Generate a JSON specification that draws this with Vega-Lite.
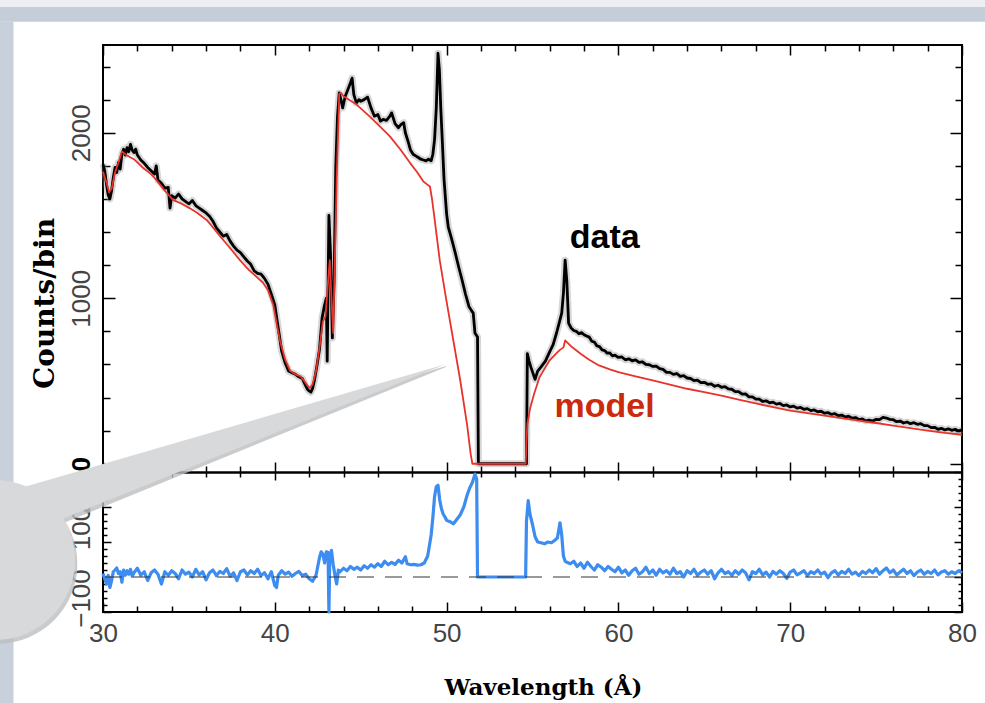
{
"$schema": "https://vega.github.io/schema/vega-lite/v6.json",
"width": 859,
"height": 567,
"autosize": {"type": "none"},
"padding": {"left": 103, "top": 45, "right": 23, "bottom": 91},
"background": "#ffffff",
"config": {
"view": {"stroke": "#000000", "strokeWidth": 2},
"axis": {"grid": false, "zindex": 0, "tickColor": "#000000", "tickWidth": 1.5, "domainColor": "#000000", "labelFont": "Liberation Sans", "labelFontSize": 26, "labelColor": "#444444", "titleFont": "DejaVu Serif", "titleColor": "#000000", "titleFontWeight": "bold", "labelFlush": false, "labelOverlap": false, "labelBound": false, "format": "d"}
},
"datasets": {
"spec": [
{"w":30.0,"c":1810},{"w":30.1,"c":1770},{"w":30.2,"c":1690},{"w":30.3,"c":1625},{"w":30.4,"c":1600},{"w":30.5,"c":1650},{"w":30.6,"c":1730},{"w":30.7,"c":1790},{"w":30.8,"c":1760},{"w":30.9,"c":1820},{"w":31.0,"c":1780},{"w":31.1,"c":1870},{"w":31.2,"c":1900},{"w":31.3,"c":1865},{"w":31.4,"c":1910},{"w":31.5,"c":1885},{"w":31.6,"c":1930},{"w":31.7,"c":1895},{"w":31.8,"c":1880},{"w":31.9,"c":1900},{"w":32.0,"c":1865},{"w":32.2,"c":1835},{"w":32.4,"c":1815},{"w":32.6,"c":1790},{"w":32.8,"c":1770},{"w":33.0,"c":1750},{"w":33.1,"c":1800},{"w":33.2,"c":1715},{"w":33.4,"c":1695},{"w":33.6,"c":1665},{"w":33.8,"c":1670},{"w":33.9,"c":1545},{"w":34.0,"c":1620},{"w":34.2,"c":1605},{"w":34.4,"c":1630},{"w":34.6,"c":1600},{"w":34.8,"c":1585},{"w":35.0,"c":1570},{"w":35.2,"c":1590},{"w":35.4,"c":1560},{"w":35.6,"c":1545},{"w":35.8,"c":1530},{"w":36.0,"c":1515},{"w":36.2,"c":1495},{"w":36.4,"c":1465},{"w":36.6,"c":1425},{"w":36.8,"c":1400},{"w":37.0,"c":1375},{"w":37.2,"c":1385},{"w":37.4,"c":1345},{"w":37.6,"c":1315},{"w":37.8,"c":1290},{"w":38.0,"c":1275},{"w":38.2,"c":1250},{"w":38.4,"c":1225},{"w":38.6,"c":1205},{"w":38.8,"c":1165},{"w":39.0,"c":1150},{"w":39.2,"c":1145},{"w":39.4,"c":1120},{"w":39.6,"c":1085},{"w":39.8,"c":1025},{"w":40.0,"c":960},{"w":40.2,"c":820},{"w":40.4,"c":680},{"w":40.6,"c":610},{"w":40.8,"c":560},{"w":41.0,"c":550},{"w":41.2,"c":540},{"w":41.4,"c":525},{"w":41.6,"c":515},{"w":41.8,"c":470},{"w":41.9,"c":450},{"w":42.0,"c":440},{"w":42.1,"c":432},{"w":42.2,"c":455},{"w":42.3,"c":500},{"w":42.45,"c":590},{"w":42.6,"c":690},{"w":42.75,"c":880},{"w":42.9,"c":960},{"w":43.0,"c":1000},{"w":43.05,"c":620},{"w":43.15,"c":1500},{"w":43.25,"c":1250},{"w":43.35,"c":760},{"w":43.45,"c":1100},{"w":43.55,"c":1800},{"w":43.65,"c":2100},{"w":43.75,"c":2240},{"w":43.85,"c":2200},{"w":43.95,"c":2150},{"w":44.1,"c":2220},{"w":44.25,"c":2260},{"w":44.4,"c":2300},{"w":44.5,"c":2330},{"w":44.6,"c":2230},{"w":44.75,"c":2180},{"w":44.9,"c":2200},{"w":45.0,"c":2190},{"w":45.2,"c":2200},{"w":45.4,"c":2215},{"w":45.6,"c":2150},{"w":45.8,"c":2100},{"w":46.0,"c":2110},{"w":46.15,"c":2070},{"w":46.3,"c":2080},{"w":46.5,"c":2075},{"w":46.7,"c":2100},{"w":46.8,"c":2120},{"w":47.0,"c":2055},{"w":47.2,"c":2030},{"w":47.35,"c":2050},{"w":47.5,"c":2060},{"w":47.6,"c":2000},{"w":47.75,"c":1950},{"w":47.9,"c":1895},{"w":48.05,"c":1870},{"w":48.2,"c":1860},{"w":48.35,"c":1850},{"w":48.5,"c":1840},{"w":48.65,"c":1835},{"w":48.8,"c":1830},{"w":48.95,"c":1840},{"w":49.1,"c":1830},{"w":49.2,"c":1870},{"w":49.3,"c":1960},{"w":49.4,"c":2150},{"w":49.5,"c":2480},{"w":49.58,"c":2380},{"w":49.66,"c":2150},{"w":49.75,"c":1950},{"w":49.85,"c":1720},{"w":50.0,"c":1510},{"w":50.1,"c":1430},{"w":50.3,"c":1355},{"w":50.5,"c":1275},{"w":50.7,"c":1190},{"w":50.9,"c":1110},{"w":51.1,"c":1025},{"w":51.3,"c":950},{"w":51.45,"c":925},{"w":51.55,"c":910},{"w":51.65,"c":790},{"w":51.8,"c":765},{"w":51.85,"c":0},{"w":54.65,"c":0},{"w":54.7,"c":665},{"w":54.8,"c":620},{"w":54.9,"c":585},{"w":55.05,"c":540},{"w":55.15,"c":510},{"w":55.3,"c":560},{"w":55.5,"c":585},{"w":55.75,"c":620},{"w":55.95,"c":665},{"w":56.2,"c":720},{"w":56.4,"c":790},{"w":56.55,"c":850},{"w":56.7,"c":910},{"w":56.8,"c":1030},{"w":56.9,"c":1230},{"w":57.0,"c":1100},{"w":57.1,"c":850},{"w":57.25,"c":820},{"w":57.4,"c":805},{"w":57.55,"c":800},{"w":57.7,"c":785},{"w":57.85,"c":792},{"w":58.0,"c":780},{"w":58.15,"c":772},{"w":58.3,"c":765},{"w":58.45,"c":740},{"w":58.6,"c":735},{"w":58.75,"c":712},{"w":58.9,"c":708},{"w":59.05,"c":688},{"w":59.2,"c":684},{"w":59.35,"c":668},{"w":59.5,"c":670},{"w":59.65,"c":652},{"w":59.8,"c":656},{"w":60.0,"c":642},{"w":60.2,"c":645},{"w":60.4,"c":628},{"w":60.6,"c":634},{"w":60.8,"c":622},{"w":61.0,"c":628},{"w":61.2,"c":612},{"w":61.4,"c":616},{"w":61.6,"c":600},{"w":61.8,"c":598},{"w":62.0,"c":588},{"w":62.2,"c":590},{"w":62.4,"c":574},{"w":62.6,"c":570},{"w":62.8,"c":552},{"w":63.0,"c":552},{"w":63.2,"c":540},{"w":63.4,"c":545},{"w":63.6,"c":528},{"w":63.8,"c":532},{"w":64.0,"c":518},{"w":64.2,"c":515},{"w":64.4,"c":502},{"w":64.6,"c":505},{"w":64.8,"c":490},{"w":65.0,"c":492},{"w":65.2,"c":480},{"w":65.4,"c":482},{"w":65.6,"c":468},{"w":65.8,"c":474},{"w":66.0,"c":462},{"w":66.2,"c":466},{"w":66.4,"c":452},{"w":66.6,"c":450},{"w":66.8,"c":436},{"w":67.0,"c":436},{"w":67.2,"c":420},{"w":67.4,"c":422},{"w":67.6,"c":404},{"w":67.8,"c":404},{"w":68.0,"c":390},{"w":68.2,"c":390},{"w":68.4,"c":376},{"w":68.6,"c":380},{"w":68.8,"c":368},{"w":69.0,"c":372},{"w":69.2,"c":360},{"w":69.4,"c":364},{"w":69.6,"c":351},{"w":69.8,"c":355},{"w":70.0,"c":343},{"w":70.2,"c":348},{"w":70.4,"c":336},{"w":70.6,"c":340},{"w":70.8,"c":329},{"w":71.0,"c":333},{"w":71.2,"c":321},{"w":71.4,"c":325},{"w":71.6,"c":314},{"w":71.8,"c":317},{"w":72.0,"c":305},{"w":72.2,"c":309},{"w":72.4,"c":298},{"w":72.6,"c":303},{"w":72.8,"c":290},{"w":73.0,"c":294},{"w":73.2,"c":282},{"w":73.4,"c":287},{"w":73.6,"c":275},{"w":73.8,"c":279},{"w":74.0,"c":267},{"w":74.2,"c":271},{"w":74.4,"c":259},{"w":74.6,"c":264},{"w":74.8,"c":258},{"w":75.0,"c":268},{"w":75.2,"c":266},{"w":75.4,"c":280},{"w":75.6,"c":276},{"w":75.8,"c":268},{"w":76.0,"c":266},{"w":76.2,"c":254},{"w":76.4,"c":258},{"w":76.6,"c":246},{"w":76.8,"c":252},{"w":77.0,"c":242},{"w":77.2,"c":248},{"w":77.4,"c":238},{"w":77.6,"c":242},{"w":77.8,"c":230},{"w":78.0,"c":230},{"w":78.2,"c":218},{"w":78.4,"c":220},{"w":78.6,"c":208},{"w":78.8,"c":214},{"w":79.0,"c":204},{"w":79.2,"c":211},{"w":79.4,"c":202},{"w":79.6,"c":208},{"w":79.8,"c":198},{"w":80.0,"c":204}
],
"model": [
{"w":30.0,"m":1764},{"w":30.2,"m":1700},{"w":30.35,"m":1640},{"w":30.5,"m":1660},{"w":30.7,"m":1760},{"w":30.9,"m":1820},{"w":31.1,"m":1887},{"w":31.4,"m":1862},{"w":31.8,"m":1840},{"w":32.3,"m":1790},{"w":32.8,"m":1750},{"w":33.1,"m":1715},{"w":33.6,"m":1650},{"w":34.07,"m":1594},{"w":34.5,"m":1575},{"w":35.06,"m":1543},{"w":35.5,"m":1515},{"w":36.03,"m":1473},{"w":36.5,"m":1415},{"w":37.0,"m":1352},{"w":37.5,"m":1290},{"w":37.97,"m":1230},{"w":38.5,"m":1170},{"w":38.94,"m":1129},{"w":39.3,"m":1095},{"w":39.6,"m":1050},{"w":39.91,"m":960},{"w":40.1,"m":850},{"w":40.3,"m":745},{"w":40.6,"m":630},{"w":40.9,"m":560},{"w":41.2,"m":540},{"w":41.5,"m":528},{"w":41.75,"m":495},{"w":41.95,"m":465},{"w":42.05,"m":458},{"w":42.2,"m":480},{"w":42.4,"m":560},{"w":42.6,"m":700},{"w":42.8,"m":860},{"w":42.95,"m":890},{"w":43.1,"m":1100},{"w":43.2,"m":1230},{"w":43.3,"m":1000},{"w":43.4,"m":790},{"w":43.5,"m":1250},{"w":43.6,"m":1715},{"w":43.75,"m":2235},{"w":43.85,"m":2240},{"w":44.0,"m":2220},{"w":44.76,"m":2170},{"w":45.5,"m":2100},{"w":46.1,"m":2040},{"w":46.7,"m":1978},{"w":47.3,"m":1900},{"w":47.87,"m":1818},{"w":48.3,"m":1760},{"w":48.65,"m":1705},{"w":48.9,"m":1685},{"w":49.03,"m":1675},{"w":49.15,"m":1600},{"w":49.3,"m":1480},{"w":49.6,"m":1230},{"w":50.0,"m":980},{"w":50.4,"m":740},{"w":50.8,"m":500},{"w":51.2,"m":230},{"w":51.4,"m":60},{"w":51.5,"m":0},{"w":54.6,"m":0},{"w":54.7,"m":240},{"w":54.85,"m":330},{"w":55.1,"m":424},{"w":55.4,"m":520},{"w":55.75,"m":582},{"w":56.0,"m":625},{"w":56.37,"m":665},{"w":56.6,"m":688},{"w":56.8,"m":703},{"w":56.9,"m":745},{"w":57.0,"m":735},{"w":57.3,"m":705},{"w":57.8,"m":665},{"w":58.3,"m":628},{"w":58.87,"m":594},{"w":59.5,"m":570},{"w":60.0,"m":553},{"w":61.0,"m":528},{"w":62.0,"m":503},{"w":63.0,"m":478},{"w":64.0,"m":453},{"w":65.0,"m":432},{"w":66.0,"m":412},{"w":67.0,"m":388},{"w":68.0,"m":364},{"w":69.0,"m":342},{"w":70.0,"m":321},{"w":71.0,"m":306},{"w":72.0,"m":291},{"w":73.0,"m":276},{"w":74.0,"m":261},{"w":75.0,"m":246},{"w":76.0,"m":230},{"w":77.0,"m":215},{"w":78.0,"m":200},{"w":79.0,"m":186},{"w":80.0,"m":175}
],
"resid": [
{"w":30.0,"r":10},{"w":30.1,"r":-5},{"w":30.2,"r":-20},{"w":30.3,"r":5},{"w":30.4,"r":-30},{"w":30.5,"r":-10},{"w":30.6,"r":15},{"w":30.7,"r":20},{"w":30.8,"r":26},{"w":30.9,"r":10},{"w":31.0,"r":15},{"w":31.1,"r":-15},{"w":31.2,"r":20},{"w":31.3,"r":5},{"w":31.4,"r":18},{"w":31.5,"r":8},{"w":31.6,"r":22},{"w":31.7,"r":2},{"w":31.8,"r":12},{"w":32.0,"r":25},{"w":32.2,"r":5},{"w":32.4,"r":15},{"w":32.6,"r":-10},{"w":32.8,"r":12},{"w":33.0,"r":20},{"w":33.2,"r":8},{"w":33.4,"r":-20},{"w":33.6,"r":15},{"w":33.8,"r":5},{"w":34.0,"r":18},{"w":34.2,"r":10},{"w":34.4,"r":-5},{"w":34.6,"r":20},{"w":34.8,"r":8},{"w":35.0,"r":14},{"w":35.2,"r":0},{"w":35.4,"r":22},{"w":35.6,"r":6},{"w":35.8,"r":15},{"w":36.0,"r":-8},{"w":36.2,"r":12},{"w":36.4,"r":20},{"w":36.6,"r":4},{"w":36.8,"r":16},{"w":37.0,"r":10},{"w":37.2,"r":24},{"w":37.4,"r":2},{"w":37.6,"r":12},{"w":37.8,"r":-10},{"w":38.0,"r":15},{"w":38.2,"r":20},{"w":38.4,"r":6},{"w":38.6,"r":18},{"w":38.8,"r":10},{"w":39.0,"r":22},{"w":39.2,"r":4},{"w":39.4,"r":12},{"w":39.6,"r":-5},{"w":39.8,"r":15},{"w":40.0,"r":-25},{"w":40.1,"r":-30},{"w":40.2,"r":5},{"w":40.4,"r":18},{"w":40.6,"r":8},{"w":40.8,"r":14},{"w":41.0,"r":2},{"w":41.2,"r":10},{"w":41.4,"r":16},{"w":41.6,"r":4},{"w":41.8,"r":8},{"w":42.0,"r":-5},{"w":42.2,"r":-12},{"w":42.4,"r":5},{"w":42.5,"r":30},{"w":42.6,"r":55},{"w":42.7,"r":72},{"w":42.8,"r":65},{"w":42.9,"r":40},{"w":43.0,"r":72},{"w":43.1,"r":70},{"w":43.15,"r":-100},{"w":43.2,"r":60},{"w":43.3,"r":76},{"w":43.4,"r":35},{"w":43.5,"r":5},{"w":43.6,"r":-20},{"w":43.7,"r":20},{"w":43.8,"r":15},{"w":44.0,"r":25},{"w":44.2,"r":18},{"w":44.4,"r":30},{"w":44.6,"r":22},{"w":44.8,"r":28},{"w":45.0,"r":20},{"w":45.2,"r":32},{"w":45.4,"r":25},{"w":45.6,"r":35},{"w":45.8,"r":28},{"w":46.0,"r":38},{"w":46.2,"r":30},{"w":46.4,"r":45},{"w":46.6,"r":35},{"w":46.8,"r":42},{"w":47.0,"r":36},{"w":47.2,"r":48},{"w":47.4,"r":40},{"w":47.6,"r":58},{"w":47.7,"r":38},{"w":47.9,"r":35},{"w":48.1,"r":36},{"w":48.3,"r":34},{"w":48.5,"r":35},{"w":48.7,"r":40},{"w":48.9,"r":60},{"w":49.0,"r":90},{"w":49.1,"r":120},{"w":49.2,"r":170},{"w":49.3,"r":230},{"w":49.4,"r":258},{"w":49.5,"r":262},{"w":49.6,"r":220},{"w":49.7,"r":195},{"w":49.8,"r":180},{"w":49.9,"r":172},{"w":50.0,"r":162},{"w":50.2,"r":158},{"w":50.4,"r":152},{"w":50.6,"r":165},{"w":50.8,"r":178},{"w":51.0,"r":200},{"w":51.2,"r":235},{"w":51.35,"r":255},{"w":51.5,"r":270},{"w":51.65,"r":294},{"w":51.75,"r":280},{"w":51.8,"r":0},{"w":54.6,"r":0},{"w":54.65,"r":160},{"w":54.75,"r":218},{"w":54.85,"r":180},{"w":55.0,"r":150},{"w":55.15,"r":115},{"w":55.3,"r":100},{"w":55.5,"r":98},{"w":55.7,"r":95},{"w":55.9,"r":100},{"w":56.1,"r":98},{"w":56.3,"r":105},{"w":56.45,"r":112},{"w":56.6,"r":155},{"w":56.7,"r":120},{"w":56.8,"r":60},{"w":56.9,"r":45},{"w":57.0,"r":42},{"w":57.2,"r":38},{"w":57.4,"r":45},{"w":57.6,"r":30},{"w":57.8,"r":40},{"w":58.0,"r":25},{"w":58.2,"r":42},{"w":58.4,"r":30},{"w":58.6,"r":20},{"w":58.8,"r":35},{"w":59.0,"r":28},{"w":59.2,"r":18},{"w":59.4,"r":30},{"w":59.6,"r":22},{"w":59.8,"r":15},{"w":60.0,"r":28},{"w":60.2,"r":12},{"w":60.4,"r":20},{"w":60.6,"r":5},{"w":60.8,"r":18},{"w":61.0,"r":25},{"w":61.2,"r":8},{"w":61.4,"r":15},{"w":61.6,"r":28},{"w":61.8,"r":10},{"w":62.0,"r":20},{"w":62.2,"r":5},{"w":62.4,"r":22},{"w":62.6,"r":12},{"w":62.8,"r":18},{"w":63.0,"r":8},{"w":63.2,"r":25},{"w":63.4,"r":10},{"w":63.6,"r":15},{"w":63.8,"r":0},{"w":64.0,"r":18},{"w":64.2,"r":10},{"w":64.4,"r":22},{"w":64.6,"r":5},{"w":64.8,"r":14},{"w":65.0,"r":20},{"w":65.2,"r":8},{"w":65.4,"r":18},{"w":65.6,"r":-5},{"w":65.8,"r":12},{"w":66.0,"r":22},{"w":66.2,"r":10},{"w":66.4,"r":15},{"w":66.6,"r":5},{"w":66.8,"r":18},{"w":67.0,"r":8},{"w":67.2,"r":20},{"w":67.4,"r":12},{"w":67.6,"r":-8},{"w":67.8,"r":15},{"w":68.0,"r":10},{"w":68.2,"r":22},{"w":68.4,"r":6},{"w":68.6,"r":14},{"w":68.8,"r":0},{"w":69.0,"r":16},{"w":69.2,"r":8},{"w":69.4,"r":18},{"w":69.6,"r":10},{"w":69.8,"r":-4},{"w":70.0,"r":14},{"w":70.2,"r":20},{"w":70.4,"r":6},{"w":70.6,"r":12},{"w":70.8,"r":18},{"w":71.0,"r":4},{"w":71.2,"r":15},{"w":71.4,"r":10},{"w":71.6,"r":20},{"w":71.8,"r":8},{"w":72.0,"r":14},{"w":72.2,"r":-2},{"w":72.4,"r":12},{"w":72.6,"r":18},{"w":72.8,"r":6},{"w":73.0,"r":16},{"w":73.2,"r":10},{"w":73.4,"r":22},{"w":73.6,"r":8},{"w":73.8,"r":14},{"w":74.0,"r":4},{"w":74.2,"r":16},{"w":74.4,"r":10},{"w":74.6,"r":20},{"w":74.8,"r":12},{"w":75.0,"r":24},{"w":75.2,"r":8},{"w":75.4,"r":18},{"w":75.6,"r":26},{"w":75.8,"r":12},{"w":76.0,"r":20},{"w":76.2,"r":6},{"w":76.4,"r":14},{"w":76.6,"r":22},{"w":76.8,"r":10},{"w":77.0,"r":18},{"w":77.2,"r":4},{"w":77.4,"r":14},{"w":77.6,"r":20},{"w":77.8,"r":8},{"w":78.0,"r":16},{"w":78.2,"r":10},{"w":78.4,"r":20},{"w":78.6,"r":6},{"w":78.8,"r":14},{"w":79.0,"r":18},{"w":79.2,"r":8},{"w":79.4,"r":15},{"w":79.6,"r":10},{"w":79.8,"r":18},{"w":80.0,"r":12}
],
"one": [{}],
"axisdummy": [{"w": 30, "v": 0}],
"callout": [{"w": 24.0, "t": -183, "b": -485.0}, {"w": 49.97, "t": 602.5, "b": 602.5}],
"calloutshadow": [{"w": 24.0, "t": -200, "b": -515.0}, {"w": 49.97, "t": 590, "b": 585}]
},
"resolve": {"scale": {"y": "independent"}, "axis": {"x": "independent", "y": "independent"}},
"layer": [
{"data": {"name": "one"}, "mark": {"type": "rect", "color": "#eceef1"},
 "encoding": {"x": {"datum": 23.5, "type": "quantitative", "scale": {"domain": [30, 80], "nice": false, "zero": false}, "axis": null}, "x2": {"datum": 82}, "y": {"datum": 2759.6, "type": "quantitative", "scale": {"domain": [-50, 2530], "range": [427, 0], "nice": false, "zero": false}, "axis": null}, "y2": {"datum": 2830}}},
{"data": {"name": "one"}, "mark": {"type": "rect", "color": "#c5cdd8"},
 "encoding": {"x": {"datum": 23.5, "type": "quantitative", "scale": {"domain": [30, 80], "nice": false, "zero": false}, "axis": null}, "x2": {"datum": 82}, "y": {"datum": 2670.8, "type": "quantitative", "scale": {"domain": [-50, 2530], "range": [427, 0], "nice": false, "zero": false}, "axis": null}, "y2": {"datum": 2759.6}}},
{"data": {"name": "one"}, "mark": {"type": "rect", "color": "#c7d0db"},
 "encoding": {"x": {"datum": 23.5, "type": "quantitative", "scale": {"domain": [30, 80], "nice": false, "zero": false}, "axis": null}, "x2": {"datum": 24.79}, "y": {"datum": -1500, "type": "quantitative", "scale": {"domain": [-50, 2530], "range": [427, 0], "nice": false, "zero": false}, "axis": null}, "y2": {"datum": 2671}}},
{"data": {"name": "spec"}, "mark": {"type": "line", "color": "#8a8a8a", "strokeWidth": 7, "opacity": 0.35, "strokeJoin": "round"},
 "encoding": {"x": {"field": "w", "type": "quantitative", "scale": {"domain": [30, 80], "nice": false, "zero": false}, "axis": null}, "y": {"field": "c", "type": "quantitative", "scale": {"domain": [-50, 2530], "range": [427, 0], "nice": false, "zero": false}, "axis": null}}},
{"data": {"name": "spec"}, "mark": {"type": "line", "color": "#000000", "strokeWidth": 2.8, "strokeJoin": "round"},
 "encoding": {"x": {"field": "w", "type": "quantitative", "scale": {"domain": [30, 80], "nice": false, "zero": false}, "axis": null}, "y": {"field": "c", "type": "quantitative", "scale": {"domain": [-50, 2530], "range": [427, 0], "nice": false, "zero": false}, "axis": null}}},
{"data": {"name": "model"}, "mark": {"type": "line", "color": "#e8332c", "strokeWidth": 1.8, "strokeJoin": "round"},
 "encoding": {"x": {"field": "w", "type": "quantitative", "scale": {"domain": [30, 80], "nice": false, "zero": false}, "axis": null}, "y": {"field": "m", "type": "quantitative", "scale": {"domain": [-50, 2530], "range": [427, 0], "nice": false, "zero": false}, "axis": null}}},
{"data": {"name": "one"}, "mark": {"type": "text", "font": "Liberation Sans", "fontWeight": "bold", "fontSize": 34, "align": "center", "baseline": "alphabetic", "color": "#000000"},
 "encoding": {"x": {"datum": 59.2, "type": "quantitative", "scale": {"domain": [30, 80], "nice": false, "zero": false}, "axis": null}, "y": {"datum": 1303, "type": "quantitative", "scale": {"domain": [-50, 2530], "range": [427, 0], "nice": false, "zero": false}, "axis": null}, "text": {"value": "data"}}},
{"data": {"name": "one"}, "mark": {"type": "text", "font": "Liberation Sans", "fontWeight": "bold", "fontSize": 34, "align": "center", "baseline": "alphabetic", "color": "#cc2a0c"},
 "encoding": {"x": {"datum": 59.2, "type": "quantitative", "scale": {"domain": [30, 80], "nice": false, "zero": false}, "axis": null}, "y": {"datum": 284, "type": "quantitative", "scale": {"domain": [-50, 2530], "range": [427, 0], "nice": false, "zero": false}, "axis": null}, "text": {"value": "model"}}},
{"data": {"name": "resid"}, "mark": {"type": "line", "color": "#3d8cf0", "strokeWidth": 3.2, "strokeJoin": "round"},
 "encoding": {"x": {"field": "w", "type": "quantitative", "scale": {"domain": [30, 80], "nice": false, "zero": false}, "axis": null}, "y": {"field": "r", "type": "quantitative", "scale": {"domain": [-100, 300], "range": [567, 427], "nice": false, "zero": false}, "axis": null}}},
{"data": {"name": "one"}, "mark": {"type": "rule", "color": "#333333", "opacity": 0.5, "strokeWidth": 2.2, "strokeDash": [17, 11]},
 "encoding": {"y": {"datum": 0, "type": "quantitative", "scale": {"domain": [-100, 300], "range": [567, 427], "nice": false, "zero": false}, "axis": null}}},
{"data": {"name": "axisdummy"}, "mark": {"type": "point", "opacity": 0},
 "encoding": {
  "x": {"field": "w", "type": "quantitative", "scale": {"domain": [30, 80], "nice": false, "zero": false}, "axis": {"orient": "bottom", "offset": -140, "values": [30, 40, 50, 60, 70, 80], "labels": false, "tickSize": -10, "domain": true, "domainWidth": 2.5, "title": null}},
  "y": {"field": "v", "type": "quantitative", "scale": {"domain": [-50, 2530], "range": [427, 0], "nice": false, "zero": false}, "axis": {"orient": "left", "values": [0, 1000, 2000], "tickSize": -12, "domain": false, "labelAngle": 270, "labelAlign": "center", "labelBaseline": "alphabetic", "labelPadding": 26, "labelColor": {"condition": {"test": "datum.value === 0", "value": "#000000"}, "value": "#444444"}, "labelFontWeight": {"condition": {"test": "datum.value === 0", "value": "bold"}, "value": "normal"}, "title": "Counts/bin", "titleAngle": 270, "titleAlign": "center", "titleBaseline": "alphabetic", "titleX": -50, "titleY": 258, "titleFontSize": 28}}}},
{"data": {"name": "axisdummy"}, "mark": {"type": "point", "opacity": 0},
 "encoding": {
  "x": {"field": "w", "type": "quantitative", "scale": {"domain": [30, 80], "nice": false, "zero": false}, "axis": {"orient": "bottom", "offset": -140, "values": [32,34,36,38,42,44,46,48,52,54,56,58,62,64,66,68,72,74,76,78], "labels": false, "tickSize": -6, "domain": false, "title": null}},
  "y": {"field": "v", "type": "quantitative", "scale": {"domain": [-50, 2530], "range": [427, 0], "nice": false, "zero": false}, "axis": {"orient": "left", "values": [200,400,600,800,1200,1400,1600,1800,2200,2400], "tickSize": -7, "labels": false, "domain": false, "title": null}}}},
{"data": {"name": "axisdummy"}, "mark": {"type": "point", "opacity": 0},
 "encoding": {
  "x": {"field": "w", "type": "quantitative", "scale": {"domain": [30, 80], "nice": false, "zero": false}, "axis": {"orient": "top", "values": [30, 40, 50, 60, 70, 80], "labels": false, "tickSize": -10, "domain": false, "title": null}},
  "y": {"field": "v", "type": "quantitative", "scale": {"domain": [-50, 2530], "range": [427, 0], "nice": false, "zero": false}, "axis": {"orient": "right", "values": [0, 1000, 2000], "tickSize": -12, "labels": false, "domain": false, "title": null}}}},
{"data": {"name": "axisdummy"}, "mark": {"type": "point", "opacity": 0},
 "encoding": {
  "x": {"field": "w", "type": "quantitative", "scale": {"domain": [30, 80], "nice": false, "zero": false}, "axis": {"orient": "top", "values": [32,34,36,38,42,44,46,48,52,54,56,58,62,64,66,68,72,74,76,78], "labels": false, "tickSize": -6, "domain": false, "title": null}},
  "y": {"field": "v", "type": "quantitative", "scale": {"domain": [-50, 2530], "range": [427, 0], "nice": false, "zero": false}, "axis": {"orient": "right", "values": [200,400,600,800,1200,1400,1600,1800,2200,2400], "tickSize": -7, "labels": false, "domain": false, "title": null}}}},
{"data": {"name": "axisdummy"}, "mark": {"type": "point", "opacity": 0},
 "encoding": {
  "x": {"field": "w", "type": "quantitative", "scale": {"domain": [30, 80], "nice": false, "zero": false}, "axis": {"orient": "bottom", "values": [30, 40, 50, 60, 70, 80], "labels": true, "labelPadding": 18, "tickSize": -10, "domain": false, "title": "Wavelength (Å)", "titleFontSize": 23, "titleX": 440, "titleY": 82, "titleAlign": "center", "titleBaseline": "alphabetic"}},
  "y": {"field": "v", "type": "quantitative", "scale": {"domain": [-100, 300], "range": [567, 427], "nice": false, "zero": false}, "axis": {"orient": "left", "values": [-100, 0, 100, 200, 300], "labelExpr": "datum.value === 0 || datum.value === 300 ? '' : datum.label", "tickSize": -8, "domain": false, "labelAngle": 270, "labelAlign": "center", "labelBaseline": "alphabetic", "labelPadding": 22, "labelOffset": -14, "title": null}}}},
{"data": {"name": "axisdummy"}, "mark": {"type": "point", "opacity": 0},
 "encoding": {
  "x": {"field": "w", "type": "quantitative", "scale": {"domain": [30, 80], "nice": false, "zero": false}, "axis": {"orient": "bottom", "values": [32,34,36,38,42,44,46,48,52,54,56,58,62,64,66,68,72,74,76,78], "labels": false, "tickSize": -6, "domain": false, "title": null}},
  "y": {"field": "v", "type": "quantitative", "scale": {"domain": [-100, 300], "range": [567, 427], "nice": false, "zero": false}, "axis": {"orient": "left", "values": [-80,-60,-40,-20,20,40,60,80,120,140,160,180,220,240,260,280], "tickSize": -4, "labels": false, "domain": false, "title": null}}}},
{"data": {"name": "axisdummy"}, "mark": {"type": "point", "opacity": 0},
 "encoding": {
  "x": {"field": "w", "type": "quantitative", "scale": {"domain": [30, 80], "nice": false, "zero": false}, "axis": {"orient": "top", "offset": -427, "values": [30, 40, 50, 60, 70, 80], "labels": false, "tickSize": -8, "domain": false, "title": null}},
  "y": {"field": "v", "type": "quantitative", "scale": {"domain": [-100, 300], "range": [567, 427], "nice": false, "zero": false}, "axis": {"orient": "right", "values": [-100, 0, 100, 200, 300], "tickSize": -8, "labels": false, "domain": false, "title": null}}}},
{"data": {"name": "axisdummy"}, "mark": {"type": "point", "opacity": 0},
 "encoding": {
  "x": {"field": "w", "type": "quantitative", "scale": {"domain": [30, 80], "nice": false, "zero": false}, "axis": {"orient": "top", "offset": -427, "values": [32,34,36,38,42,44,46,48,52,54,56,58,62,64,66,68,72,74,76,78], "labels": false, "tickSize": -5, "domain": false, "title": null}},
  "y": {"field": "v", "type": "quantitative", "scale": {"domain": [-100, 300], "range": [567, 427], "nice": false, "zero": false}, "axis": {"orient": "right", "values": [-80,-60,-40,-20,20,40,60,80,120,140,160,180,220,240,260,280], "tickSize": -4, "labels": false, "domain": false, "title": null}}}},
{"data": {"name": "calloutshadow"}, "mark": {"type": "area", "color": "#bdbec0", "opacity": 0.8},
 "encoding": {"x": {"field": "w", "type": "quantitative", "scale": {"domain": [30, 80], "nice": false, "zero": false}, "axis": null}, "y": {"field": "t", "type": "quantitative", "scale": {"domain": [-50, 2530], "range": [427, 0], "nice": false, "zero": false}, "axis": null}, "y2": {"field": "b"}}},
{"data": {"name": "one"}, "mark": {"type": "point", "shape": "circle", "filled": true, "size": 25600, "color": "#bdbec0", "opacity": 0.8, "strokeWidth": 0},
 "encoding": {"x": {"datum": 23.85, "type": "quantitative", "scale": {"domain": [30, 80], "nice": false, "zero": false}, "axis": null}, "y": {"datum": -605, "type": "quantitative", "scale": {"domain": [-50, 2530], "range": [427, 0], "nice": false, "zero": false}, "axis": null}}},
{"data": {"name": "callout"}, "mark": {"type": "area", "color": "#d8d9db", "opacity": 1},
 "encoding": {"x": {"field": "w", "type": "quantitative", "scale": {"domain": [30, 80], "nice": false, "zero": false}, "axis": null}, "y": {"field": "t", "type": "quantitative", "scale": {"domain": [-50, 2530], "range": [427, 0], "nice": false, "zero": false}, "axis": null}, "y2": {"field": "b"}}},
{"data": {"name": "one"}, "mark": {"type": "point", "shape": "circle", "filled": true, "size": 25600, "color": "#d8d9db", "opacity": 1, "strokeWidth": 0},
 "encoding": {"x": {"datum": 23.714, "type": "quantitative", "scale": {"domain": [30, 80], "nice": false, "zero": false}, "axis": null}, "y": {"datum": -581.7, "type": "quantitative", "scale": {"domain": [-50, 2530], "range": [427, 0], "nice": false, "zero": false}, "axis": null}}}
]
}
